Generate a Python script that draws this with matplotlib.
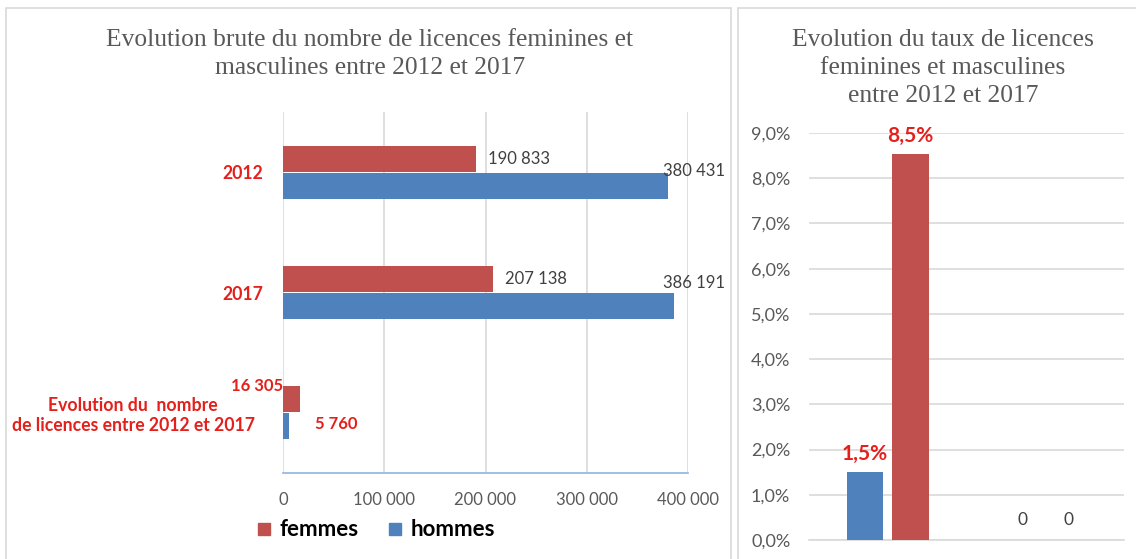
#!/usr/bin/env python3
"""
Licences feminines / masculines : evolution 2012 - 2017 (deux graphiques).
"""

import matplotlib
matplotlib.use("Agg")
import matplotlib.pyplot as plt
import matplotlib.transforms as mtransforms
from matplotlib.patches import Rectangle
from matplotlib.lines import Line2D

# --- donnees ---
categories = ["2012", "2017", "Evolution du  nombre\nde licences entre 2012 et 2017"]
femmes = [190833, 207138, 16305]
hommes = [380431, 386191, 5760]
x_ticks = [0, 100000, 200000, 300000, 400000]

taux_groupes = [0, 1]
taux_hommes = [1.514, 0.0]   # en %
taux_femmes = [8.544, 0.0]   # en %
y_ticks_pct = [0, 1, 2, 3, 4, 5, 6, 7, 8, 9]

ROUGE = "#c0504d"
BLEU = "#4f81bd"
ROUGE_TXT = "#e3201b"
GRIS_TXT = "#595959"
GRIS_LBL = "#404040"
GRILLE = "#d9d9d9"
SANS = ["Lato", "DejaVu Sans"]
SERIF = ["Liberation Serif", "DejaVu Serif"]

W, H = 1136, 559


def fx(px):
    return px / W


def fy(py):
    return 1 - py / H


def fmt_milliers(v):
    return f"{v:,}".replace(",", " ")


def plot_licences():
    fig = plt.figure(figsize=(W / 100, H / 100), dpi=100)
    fig.patch.set_facecolor("white")

    # cadres des deux panneaux
    fig.patches.append(Rectangle((fx(6), fy(575)), fx(731 - 6), 567 / H,
                                 transform=fig.transFigure, fill=False,
                                 edgecolor=GRILLE, lw=1.2))
    fig.patches.append(Rectangle((fx(738), fy(575)), fx(1140 - 738), 567 / H,
                                 transform=fig.transFigure, fill=False,
                                 edgecolor=GRILLE, lw=1.2))

    # ---------------- graphique de gauche ----------------
    ax = fig.add_axes([fx(283), fy(473), fx(688 - 283), (473 - 112) / H])
    ypos = [2, 1, 0]
    h = 0.215
    off = 0.112
    yf = [y + off for y in ypos]
    yh = [y - off for y in ypos]
    ax.barh(yf, femmes, height=h, color=ROUGE, label="femmes", zorder=3)
    ax.barh(yh, hommes, height=h, color=BLEU, label="hommes", zorder=3)

    ax.set_xlim(0, 400000)
    ax.set_ylim(-0.5, 2.5)
    ax.set_xticks(x_ticks)
    ax.set_xticklabels([fmt_milliers(v) for v in x_ticks], family=SANS,
                       fontsize=12, color=GRIS_TXT)
    ax.tick_params(axis="x", length=0, pad=14)
    ax.set_yticks(ypos)
    ax.set_yticklabels(categories, family=SANS, fontsize=12.7, color=ROUGE_TXT,
                       fontweight="bold", multialignment="center")
    ax.tick_params(axis="y", length=0, pad=14)
    # le libelle long est un peu plus a gauche dans l'original
    lbl = ax.get_yticklabels()[2]
    lbl.set_transform(lbl.get_transform() +
                      mtransforms.ScaledTranslation(-0.09, 0, fig.dpi_scale_trans))
    ax.grid(axis="x", color=GRILLE, lw=1.2, zorder=0)
    for s in ["top", "right", "left"]:
        ax.spines[s].set_visible(False)
    ax.spines["bottom"].set_color("#8eb4e3")
    ax.spines["bottom"].set_linewidth(1.2)

    # etiquettes de valeurs (positions comme dans l'original)
    lab_gris = dict(textcoords="offset pixels", family=SANS, fontsize=12,
                    color=GRIS_LBL, va="center")
    ax.annotate(fmt_milliers(femmes[0]), (femmes[0], yf[0]), xytext=(12, 0),
                ha="left", **lab_gris)
    ax.annotate(fmt_milliers(hommes[0]), (hommes[0], yh[0]), xytext=(-5, 15),
                ha="left", **lab_gris)
    ax.annotate(fmt_milliers(femmes[1]), (femmes[1], yf[1]), xytext=(12, 0),
                ha="left", **lab_gris)
    ax.annotate(fmt_milliers(hommes[1]), (hommes[1], yh[1]), xytext=(-11, 23),
                ha="left", **lab_gris)
    lab_rouge = dict(textcoords="offset pixels", family=SANS, fontsize=12,
                     color=ROUGE_TXT, fontweight="bold", va="center")
    ax.annotate(fmt_milliers(femmes[2]), (0, yf[2]), xytext=(0, 13),
                ha="right", **lab_rouge)
    ax.annotate(fmt_milliers(hommes[2]), (hommes[2], yh[2]), xytext=(26, 2),
                ha="left", **lab_rouge)

    fig.text(fx(370), fy(54),
             "Evolution brute du nombre de licences feminines et\n"
             "masculines entre 2012 et 2017",
             ha="center", va="center", family=SERIF, fontsize=18.4,
             color=GRIS_TXT, linespacing=1.33)

    handles = [Line2D([], [], marker="s", ls="none", color=ROUGE, markersize=8),
               Line2D([], [], marker="s", ls="none", color=BLEU, markersize=8)]
    fig.legend(handles, ["femmes", "hommes"], loc="center",
               bbox_to_anchor=(fx(374), fy(530)), ncol=2, frameon=False,
               prop={"family": SANS, "weight": "bold", "size": 16},
               handletextpad=0.2, columnspacing=1.1, handlelength=1.0)

    # ---------------- graphique de droite ----------------
    ax2 = fig.add_axes([fx(809), fy(540), fx(1124 - 809), (540 - 133) / H])
    w = 0.23
    d = 0.145
    xb = [g - d for g in taux_groupes]
    xr = [g + d for g in taux_groupes]
    ax2.bar(xb, taux_hommes, width=w, color=BLEU, zorder=3)
    ax2.bar(xr, taux_femmes, width=w, color=ROUGE, zorder=3)
    ax2.set_xlim(-0.5, 1.5)
    ax2.set_ylim(0, 9)
    ax2.set_xticks([])
    ax2.set_yticks(y_ticks_pct)
    ax2.set_yticklabels([f"{v:.1f}%".replace(".", ",") for v in y_ticks_pct],
                        family=SANS, fontsize=13, color=GRIS_TXT)
    ax2.tick_params(axis="y", length=0, pad=13.5)
    ax2.grid(axis="y", color=GRILLE, lw=1.2, zorder=0)
    for s in ["top", "right", "left"]:
        ax2.spines[s].set_visible(False)
    ax2.spines["bottom"].set_color(GRILLE)
    ax2.spines["bottom"].set_linewidth(1.2)

    for x, v in list(zip(xb, taux_hommes)) + list(zip(xr, taux_femmes)):
        if v > 0:
            ax2.annotate(f"{v:.1f}%".replace(".", ","), (x, v), xytext=(0, 8),
                         textcoords="offset pixels", ha="center", va="bottom",
                         family=SANS, fontsize=15, fontweight="bold",
                         color=ROUGE_TXT)
        else:
            ax2.annotate("0", (x, v), xytext=(0, 12),
                         textcoords="offset pixels", ha="center", va="bottom",
                         family=SANS, fontsize=12.5, color=GRIS_LBL)

    fig.text(fx(943), fy(68),
             "Evolution du taux de licences\nfeminines et masculines\n"
             "entre 2012 et 2017",
             ha="center", va="center", family=SERIF, fontsize=18.4,
             color=GRIS_TXT, linespacing=1.33)

    fig.savefig("out.png", dpi=100)


if __name__ == "__main__":
    plot_licences()
